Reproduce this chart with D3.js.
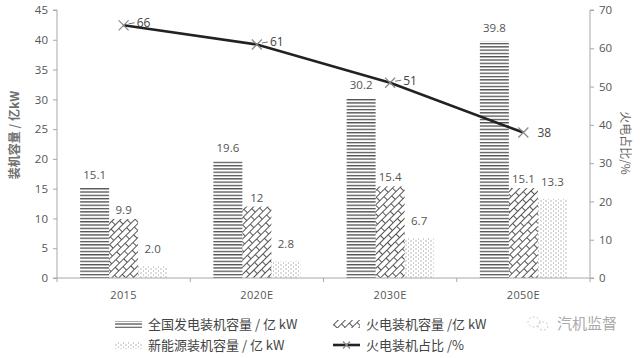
<!DOCTYPE html>
<html><head><meta charset="utf-8">
<script src="https://cdn.jsdelivr.net/npm/d3@7"></script>
<style>
html,body{margin:0;padding:0;background:#fff;}
svg{display:block;font-family:"Open Sans","Noto Sans CJK SC",sans-serif;}
</style></head>
<body>
<svg id="c" width="640" height="358"></svg>
<script>
const categories = ["2015", "2020E", "2030E", "2050E"];
const totalCapacity = [15.1, 19.6, 30.2, 39.8];
const thermalCapacity = [9.9, 12, 15.4, 15.1];
const newEnergyCapacity = [2.0, 2.8, 6.7, 13.3];
const totalLabels = ["15.1", "19.6", "30.2", "39.8"];
const thermalLabels = ["9.9", "12", "15.4", "15.1"];
const newEnergyLabels = ["2.0", "2.8", "6.7", "13.3"];
const thermalShare = [66, 61, 51, 38];
const leftTicks = [0, 5, 10, 15, 20, 25, 30, 35, 40, 45];
const rightTicks = [0, 10, 20, 30, 40, 50, 60, 70];
const seriesNames = ["全国发电装机容量 / 亿 kW", "火电装机容量 /亿 kW", "新能源装机容量 / 亿 kW", "火电装机占比 /%"];
const leftTitle = "装机容量 / 亿kW";
const rightTitle = "火电占比/%";
const watermark = "汽机监督";

const svg = d3.select("#c");
const L = 57, R = 590, T = 10, B = 278;
const axisColor = "#a8a8a8", textColor = "#555";

// patterns
const defs = svg.append("defs");
const pH = defs.append("pattern").attr("id","hlines").attr("patternUnits","userSpaceOnUse")
  .attr("width",10).attr("height",3.3);
pH.append("rect").attr("x",0).attr("y",0).attr("width",10).attr("height",1.3).attr("fill","#505050");

const pX = defs.append("pattern").attr("id","brick").attr("patternUnits","userSpaceOnUse")
  .attr("width",12).attr("height",10).attr("patternTransform","rotate(-45)");
pX.append("path").attr("d","M0,0.5H12M0,5.5H12M0.5,0.5V5.5M6.5,5.5V10").attr("stroke","#555").attr("stroke-width",1).attr("fill","none");

const pD = defs.append("pattern").attr("id","dots").attr("patternUnits","userSpaceOnUse")
  .attr("width",5).attr("height",4);
pD.append("rect").attr("x",0.5).attr("y",0.5).attr("width",1).attr("height",1).attr("fill","#777");
pD.append("rect").attr("x",3).attr("y",2.5).attr("width",1).attr("height",1).attr("fill","#999");

const x0 = d3.scaleBand().domain(categories).range([L, R]).paddingInner(0.347).paddingOuter(0.1735);
const seriesKeys = ["total","thermal","newEnergy"];
const x1 = d3.scaleBand().domain(seriesKeys).range([0, x0.bandwidth()]);
const yL = d3.scaleLinear().domain([0,45]).range([B, T]);
const yR = d3.scaleLinear().domain([0,70]).range([B, T]);
const step = x0.step();
const xc = c => x0(c) + x0.bandwidth()/2;

const fills = {total:"url(#hlines)", thermal:"url(#brick)", newEnergy:"url(#dots)"};
const values = {total: totalCapacity, thermal: thermalCapacity, newEnergy: newEnergyCapacity};
const labels = {total: totalLabels, thermal: thermalLabels, newEnergy: newEnergyLabels};
const labelGap = {total: 9, thermal: 5, newEnergy: 13};

// axes
const gL = svg.append("g").attr("transform",`translate(${L},0)`)
  .call(d3.axisLeft(yL).tickValues(leftTicks).tickSize(4).tickPadding(5));
const gR = svg.append("g").attr("transform",`translate(${R},0)`)
  .call(d3.axisRight(yR).tickValues(rightTicks).tickSize(4).tickPadding(5));
[gL,gR].forEach(g=>{
  g.select(".domain").attr("stroke",axisColor);
  g.selectAll(".tick line").attr("stroke",axisColor);
  g.selectAll(".tick text").attr("fill",textColor).attr("font-size",11.5).attr("font-family","Open Sans, sans-serif");
});
gL.select(".domain").attr("d",`M-4,${T}H0V${B}H-4`);
gR.select(".domain").attr("d",`M4,${T}H0V${B}H4`);

// bars
categories.forEach((c,i)=>{
  seriesKeys.forEach(k=>{
    const v = values[k][i];
    svg.append("rect").attr("x", x0(c)+x1(k)).attr("y", yL(v))
      .attr("width", x1.bandwidth()).attr("height", yL(0)-yL(v)).attr("fill", fills[k]);
    svg.append("text").attr("x", x0(c)+x1(k)+x1.bandwidth()/2).attr("y", yL(v)-labelGap[k])
      .attr("text-anchor","middle").attr("font-size",11.5).attr("fill",textColor).text(labels[k][i]);
  });
});

// bottom axis
const gB = svg.append("g").attr("transform",`translate(0,${B})`);
gB.append("line").attr("x1",L).attr("x2",R).attr("y1",0).attr("y2",0).attr("stroke",axisColor);
d3.range(categories.length+1).forEach(j=>{
  const xx = L + j*step;
  gB.append("line").attr("x1",xx).attr("x2",xx).attr("y1",0).attr("y2",4).attr("stroke",axisColor);
});
categories.forEach(c=>{
  gB.append("text").attr("x",xc(c)).attr("y",21).attr("text-anchor","middle")
    .attr("font-size",11).attr("fill",textColor).attr("letter-spacing",0.4).text(c);
});

// line
const line = d3.line().x((d,i)=>xc(categories[i])).y(d=>yR(d));
svg.append("path").datum(thermalShare).attr("d",line).attr("fill","none")
  .attr("stroke","#222").attr("stroke-width",2.6);
function cross(g,x,y,s){
  g.append("path").attr("d",`M${x-s},${y-s}L${x+s},${y+s}M${x-s},${y+s}L${x+s},${y-s}`)
    .attr("stroke","#888").attr("stroke-width",1.2).attr("fill","none");
}
thermalShare.forEach((v,i)=>{
  const x = xc(categories[i]), y = yR(v);
  cross(svg,x,y,5);
  const last = i===thermalShare.length-1;
  if(!last){
    svg.append("line").attr("x1",x+5).attr("x2",x+11).attr("y1",y-1.5).attr("y2",y-2.5).attr("stroke","#777").attr("stroke-width",1);
  }
  svg.append("text").attr("x", x + (last?14:13)).attr("y", y + (last?4:2))
    .attr("font-size",12).attr("fill","#444").text(v);
});

// axis titles
svg.append("text").attr("transform","translate(19,135) rotate(-90)").attr("text-anchor","middle")
  .attr("font-size",12).attr("font-family","Noto Sans CJK SC").attr("font-weight","bold").attr("fill","#707070").text(leftTitle);
svg.append("text").attr("transform","translate(621,143) rotate(90)").attr("text-anchor","middle")
  .attr("font-size",12).attr("font-family","Noto Sans CJK SC").attr("fill","#666").text(rightTitle);

// legend
const leg = svg.append("g").attr("font-family","Noto Sans CJK SC").attr("font-size",13).attr("fill","#444");
const lx1 = 115, lx2 = 333, ly1 = 324, ly2 = 345, sw = 27;
leg.append("rect").attr("x",lx1).attr("y",ly1-3).attr("width",sw).attr("height",7).attr("fill","url(#hlines)");
leg.append("text").attr("x",148).attr("y",ly1+4.5).text(seriesNames[0]);
leg.append("rect").attr("x",lx2).attr("y",ly1-4).attr("width",sw).attr("height",8).attr("fill","url(#brick)");
leg.append("text").attr("x",366).attr("y",ly1+4.5).text(seriesNames[1]);
leg.append("rect").attr("x",lx1).attr("y",ly2-3).attr("width",sw).attr("height",7).attr("fill","url(#dots)");
leg.append("text").attr("x",148).attr("y",ly2+4.5).text(seriesNames[2]);
leg.append("line").attr("x1",lx2).attr("x2",lx2+sw).attr("y1",ly2).attr("y2",ly2).attr("stroke","#222").attr("stroke-width",2.6);
cross(leg,lx2+sw/2,ly2,3.5);
leg.append("text").attr("x",366).attr("y",ly2+4.5).text(seriesNames[3]);

// watermark
const wm = svg.append("g");
wm.append("ellipse").attr("cx",534).attr("cy",322).attr("rx",6).attr("ry",5).attr("fill","none").attr("stroke","#c8c8c8").attr("stroke-dasharray","2,2");
wm.append("ellipse").attr("cx",543).attr("cy",326).attr("rx",5).attr("ry",4).attr("fill","none").attr("stroke","#c8c8c8").attr("stroke-dasharray","2,2");
wm.append("text").attr("x",557).attr("y",329).attr("font-family","Noto Sans CJK SC").attr("font-size",15).attr("fill","#aaa").text(watermark);
</script>
</body></html>
